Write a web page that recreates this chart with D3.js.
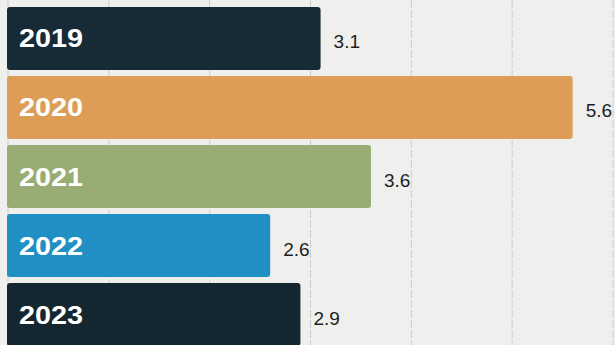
<!DOCTYPE html>
<html><head><meta charset="utf-8">
<script src="https://cdn.jsdelivr.net/npm/d3@7"></script>
<style>html,body{margin:0;padding:0;background:#efefed;}svg{display:block;}</style>
</head><body>
<script>
const years = ["2019","2020","2021","2022","2023"];
const values = [3.1, 5.6, 3.6, 2.6, 2.9];
const colors = ["#162b36","#dd9d56","#98ad73","#1f8fc4","#14262f"];
const gridTicks = [1,2,3,4,5,6];

const W = 615, H = 345;
const svg = d3.select("body").append("svg").attr("width", W).attr("height", H);
svg.append("rect").attr("width", W).attr("height", H).attr("fill", "#efefed");

const x = d3.scaleLinear().domain([0, 6]).range([8, 613]);
const y = d3.scaleBand().domain(years).range([7, 346]).paddingInner(0.087).paddingOuter(0);

svg.append("g").selectAll("line").data(gridTicks).join("line")
  .attr("x1", d => x(d)).attr("x2", d => x(d))
  .attr("y1", 0).attr("y2", H)
  .attr("stroke", "#c9cdd2").attr("stroke-width", 1).attr("stroke-dasharray", "8,2");

svg.append("line").attr("x1", x(0)).attr("x2", x(0)).attr("y1", 0).attr("y2", H)
  .attr("stroke", "#c9cdd2").attr("stroke-width", 1);

const data = years.map((yr, i) => ({yr, v: values[i], c: colors[i]}));

svg.append("g").selectAll("rect").data(data).join("rect")
  .attr("x", x(0) - 1).attr("y", d => y(d.yr))
  .attr("width", d => x(d.v) - x(0) + 1).attr("height", y.bandwidth())
  .attr("rx", 3).attr("fill", d => d.c);

svg.append("g").selectAll("text").data(data).join("text")
  .attr("x", 19).attr("y", d => y(d.yr) + y.bandwidth() / 2 + 9)
  .attr("fill", "#ffffff").attr("font-family", "Liberation Sans, Arial, sans-serif")
  .attr("font-weight", "bold").attr("font-size", 26)
  .attr("textLength", 64).attr("lengthAdjust", "spacingAndGlyphs")
  .text(d => d.yr);

svg.append("g").selectAll("text").data(data).join("text")
  .attr("x", d => x(d.v) + 13).attr("y", d => y(d.yr) + y.bandwidth() / 2 + 10)
  .attr("fill", "#1e1e1e").attr("font-family", "Liberation Sans, Arial, sans-serif")
  .attr("font-size", 19)
  .text(d => d.v.toFixed(1));
</script>
</body></html>
